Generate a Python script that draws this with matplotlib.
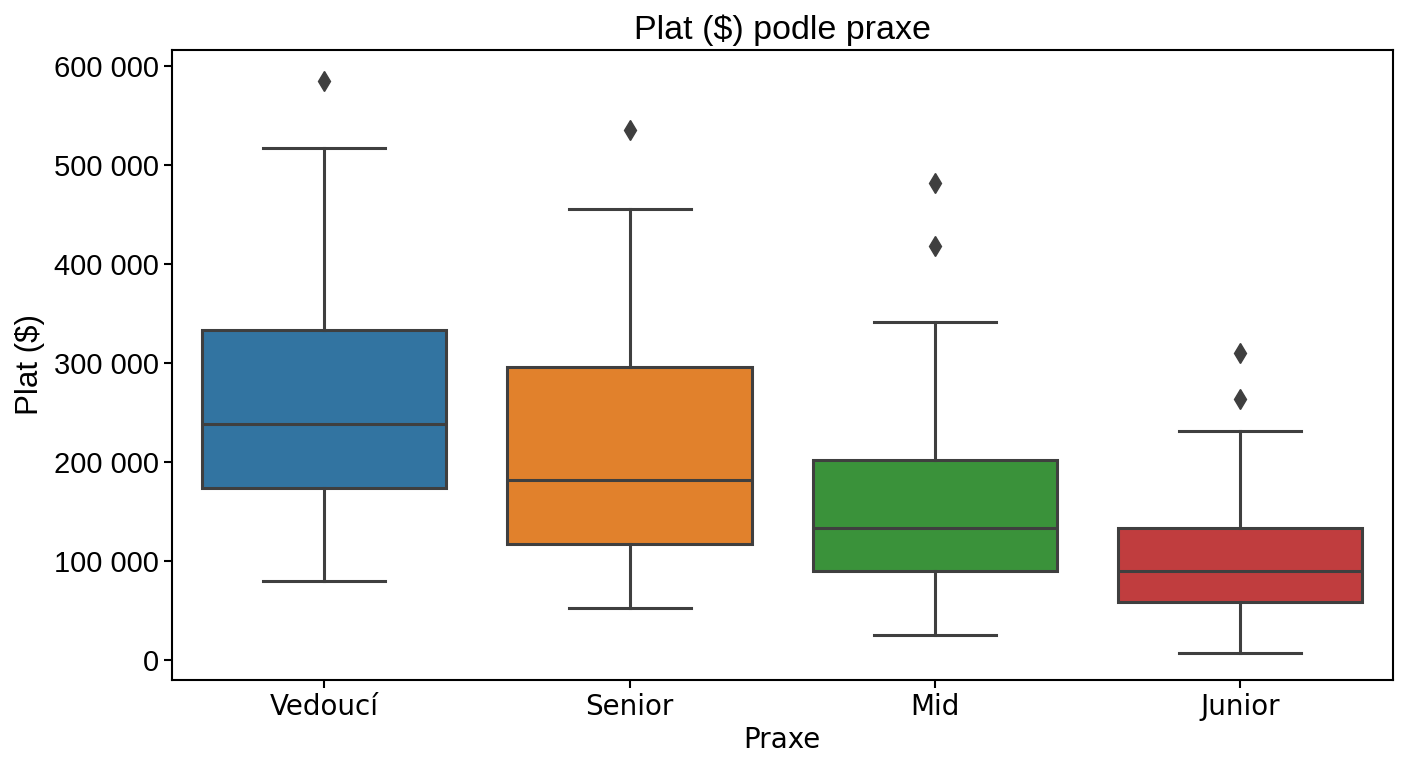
import matplotlib
matplotlib.use("Agg")
from matplotlib import pyplot as plt
from matplotlib.ticker import FuncFormatter

# hodnoty
categories = ["Vedoucí", "Senior", "Mid", "Junior"]
whislo = [80000, 52500, 25000, 7000]
q1 = [173000, 117000, 90000, 58000]
med = [238000, 182000, 133000, 90000]
q3 = [333000, 296000, 202000, 133000]
whishi = [517000, 455000, 341000, 231000]
fliers = [[585000], [535000], [482000, 418000], [310000, 263000]]

colors = ["#3274a1", "#e1812c", "#3a923a", "#c03d3e"]
edge = "#3f3f3f"

plt.rcParams['font.family'] = ['Liberation Sans', 'DejaVu Sans']

fig = plt.figure(figsize=(14.08, 7.68), dpi=100)
ax = fig.add_axes([0.122, 0.115, 0.867, 0.82])

stats = []
for i, name in enumerate(categories):
    stats.append(dict(label=name, whislo=whislo[i], q1=q1[i], med=med[i],
                      q3=q3[i], whishi=whishi[i], fliers=fliers[i]))

bp = ax.bxp(stats, positions=range(len(categories)), widths=0.8,
            patch_artist=True, showfliers=True,
            boxprops=dict(edgecolor=edge, linewidth=2.2),
            medianprops=dict(color=edge, linewidth=2.2),
            whiskerprops=dict(color=edge, linewidth=2.2),
            capprops=dict(color=edge, linewidth=2.2),
            flierprops=dict(marker="d", markerfacecolor=edge, markeredgecolor=edge,
                            markersize=10, linestyle="none"))
for patch, c in zip(bp["boxes"], colors):
    patch.set_facecolor(c)
for cap in bp["caps"]:
    x = cap.get_xdata()
    mid = (x[0] + x[1]) / 2
    cap.set_xdata([mid - 0.2, mid + 0.2])

ax.set_xlim(-0.5, 3.5)
ax.set_ylim(-20200, 616200)
ax.set_yticks(range(0, 600001, 100000))
ax.yaxis.set_major_formatter(FuncFormatter(lambda v, p: f"{int(v):,}".replace(",", " ")))

for s in ax.spines.values():
    s.set_linewidth(1.5)
ax.tick_params(axis="y", labelsize=21, width=1.5, length=6)
ax.tick_params(axis="x", labelsize=20, width=1.5, length=6)
for lab in ax.get_xticklabels():
    lab.set_family("DejaVu Sans")

ax.set_title("Plat ($) podle praxe", fontsize=24.5, pad=8)
ax.set_xlabel("Praxe", fontsize=20, family="DejaVu Sans")
ax.set_ylabel("Plat ($)", fontsize=22.5, labelpad=6)

fig.savefig("out.png", dpi=100)
